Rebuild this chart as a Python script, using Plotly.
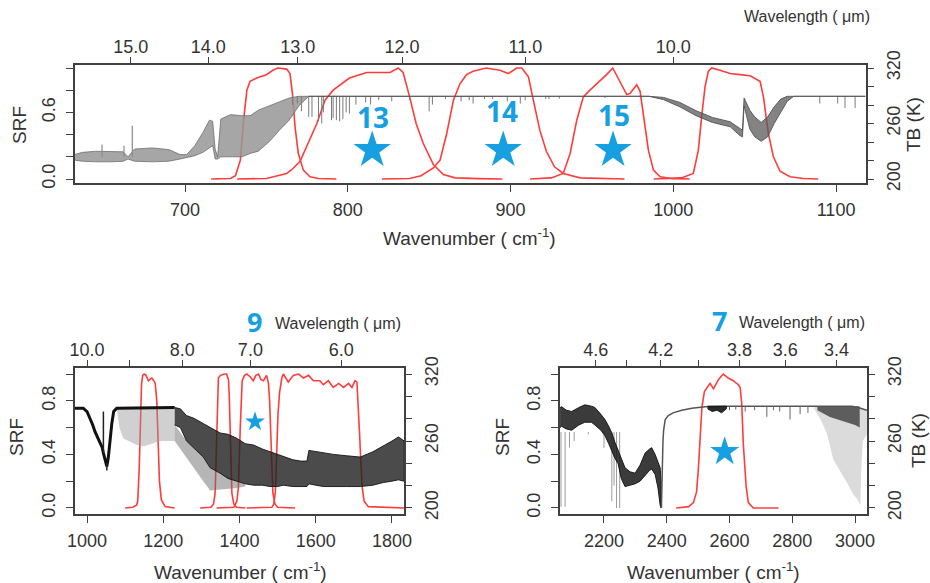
import plotly.graph_objects as go

# ======================= DATA =======================
# ---- Top panel (wavenumber cm-1) : spectral response functions ----
top_srf1_wn = [716, 728, 731, 734, 736, 738, 740, 744, 750, 754, 757, 762.5, 764.5, 766, 767.6, 769.6, 772.7, 776.8, 782, 793]
top_srf1 = [0.0, 0.005, 0.03, 0.17, 0.53, 0.8, 0.88, 0.91, 0.94, 0.98, 1.0, 0.99, 0.95, 0.77, 0.47, 0.23, 0.08, 0.02, 0.005, 0.0]
top_srf2_wn = [732, 750, 762.5, 766, 770.7, 774.8, 781, 786, 791, 801, 811.6, 821.8, 826, 831, 834, 838, 842, 846.4, 852.6, 858.7, 866, 880, 895]
top_srf2 = [0.0, 0.005, 0.05, 0.09, 0.16, 0.29, 0.5, 0.71, 0.8, 0.91, 0.96, 0.96, 0.96, 1.0, 0.96, 0.74, 0.5, 0.32, 0.13, 0.04, 0.01, 0.003, 0.0]
top_srf3_wn = [821, 838, 845, 852.6, 856.7, 860.8, 864.9, 869, 873, 877, 885, 893.5, 898.6, 903.8, 906.9, 911, 914, 918, 922, 927, 932.4, 942.7, 970]
top_srf3 = [0.0, 0.005, 0.03, 0.1, 0.17, 0.41, 0.71, 0.86, 0.94, 0.97, 1.0, 0.98, 0.95, 1.0, 1.0, 0.92, 0.71, 0.44, 0.25, 0.11, 0.05, 0.01, 0.0]
top_srf4_wn = [912, 925, 932.4, 936.6, 940.7, 944.7, 948.8, 955, 959, 962.8, 967.3, 971.4, 973.4, 977.5, 979.6, 981.6, 984.7, 987.8, 991.9, 1000, 1010]
top_srf4 = [0.0, 0.01, 0.05, 0.23, 0.53, 0.74, 0.8, 0.88, 0.94, 1.0, 0.88, 0.76, 0.77, 0.85, 0.79, 0.59, 0.26, 0.08, 0.02, 0.003, 0.0]
top_srf5_wn = [988, 1005, 1012.3, 1015.4, 1017.4, 1019.5, 1021.5, 1023.6, 1028.7, 1034.9, 1041, 1047.2, 1053.3, 1055.4, 1058.4, 1061.5, 1065.6, 1071.7, 1080, 1089]
top_srf5 = [0.0, 0.01, 0.05, 0.26, 0.56, 0.83, 0.97, 1.0, 0.98, 0.95, 0.94, 0.93, 0.88, 0.74, 0.41, 0.2, 0.07, 0.02, 0.005, 0.0]

# ---- Top panel : brightness temperature spectrum (K) ----
top_co2_wn = [632, 637, 645, 655, 662, 665, 669, 680, 690, 697, 701, 706, 711, 715, 717, 718.5, 720, 722, 728, 735, 740, 745, 752, 758, 764, 770, 776]
top_co2_hi = [226.4, 228.8, 230, 230, 229.4, 224, 232.4, 233.6, 231.8, 226.4, 226.4, 236, 250.4, 263.6, 262.4, 232.4, 224, 264.8, 269.6, 268.4, 268.4, 274.4, 279.2, 284, 287.6, 289.4, 289.4]
top_co2_lo = [220.4, 219.2, 218.6, 218.6, 219.2, 221.6, 219.2, 218.6, 219.2, 221.6, 222.8, 225.2, 228.8, 233.6, 236, 221.6, 221.6, 224, 224, 224, 227.6, 230, 240.8, 252.8, 263.6, 279.2, 289.4]
top_spike_wn = [649, 662.5, 667.6]
top_spike_tb = [237.2, 236, 257.6]
top_win_wn = [776, 985, 994, 1004, 1014, 1024, 1035, 1041, 1042.5, 1043.5, 1047, 1050, 1054, 1058, 1062, 1066, 1070, 1074, 1118]
top_win_hi = [289.4, 289.4, 288.2, 282.8, 273.8, 266.6, 261.8, 254, 252.8, 287.6, 274.4, 267.2, 261.2, 267.2, 278, 286.4, 289.4, 289.4, 289.4]
top_win_lo = [289.4, 289.4, 285.8, 278, 268.4, 261.2, 256.4, 246.8, 245.6, 279.2, 254, 245.6, 240.8, 245.6, 260, 272, 284, 289.4, 289.4]
top_line_wn = [766, 769, 771.5, 776, 778, 782, 784, 785, 790, 791, 793, 795, 797, 799, 801, 805, 811, 814, 819, 827, 838, 850, 852, 860,
               869.6, 874.6, 877, 884, 889, 898, 906, 909, 921.6, 923.6, 930, 945, 958, 1090, 1101, 1105.5, 1111.7]
top_line_tb = [280.4, 281.6, 273.2, 267.2, 267.2, 262.4, 260, 272, 263.6, 266, 263.6, 262.4, 264.8, 272, 270.8, 280.4, 282.8, 280.4, 285.2, 284, 285.2, 273.2, 280.4, 286.4,
               284, 285.2, 281.6, 286.4, 286.4, 284, 281.6, 285.2, 286.4, 286.4, 287, 287.6, 287.6, 281.6, 281.6, 276.8, 276.8]
top_baseline_tb = 289.4

# ---- Bottom-left panel ----
bl_srf1_wn = [1100, 1120, 1130, 1133, 1137, 1140, 1143, 1146, 1150, 1155, 1161, 1165, 1170, 1175, 1179, 1183, 1187, 1190, 1195, 1205, 1230]
bl_srf1 = [0.0, 0.005, 0.02, 0.05, 0.3, 0.65, 0.92, 0.99, 1.0, 0.99, 0.95, 0.96, 0.97, 0.95, 0.93, 0.8, 0.45, 0.2, 0.06, 0.01, 0.0]
bl_srf2_wn = [1297, 1325, 1332, 1336, 1338, 1340.5, 1344.6, 1350, 1360, 1366, 1371, 1373, 1375, 1378, 1380, 1385, 1392, 1415]
bl_srf2 = [0.0, 0.005, 0.03, 0.11, 0.3, 0.6, 0.97, 0.99, 1.0, 1.0, 0.96, 0.85, 0.6, 0.3, 0.11, 0.03, 0.005, 0.0]
bl_srf3_wn = [1340, 1385, 1393, 1397, 1402, 1407, 1413, 1419, 1428, 1436, 1443, 1450, 1456, 1463, 1471, 1476, 1479, 1482, 1485, 1487.5, 1493, 1500, 1546]
bl_srf3 = [0.0, 0.005, 0.05, 0.15, 0.6, 0.95, 0.99, 1.0, 0.98, 0.95, 0.99, 1.0, 0.96, 0.95, 0.99, 0.93, 0.8, 0.6, 0.3, 0.11, 0.03, 0.005, 0.0]
bl_srf4_wn = [1419, 1485, 1490, 1494, 1497, 1501, 1505, 1511, 1515, 1528, 1541, 1555, 1568, 1581, 1594, 1611, 1620, 1633, 1646, 1660, 1673, 1686, 1695, 1703, 1708, 1712, 1715, 1718, 1722, 1727, 1738, 1832]
bl_srf4 = [0.0, 0.005, 0.03, 0.12, 0.36, 0.7, 0.86, 0.97, 1.0, 0.94, 0.99, 1.0, 0.97, 0.99, 0.95, 0.95, 0.92, 0.95, 0.9, 0.93, 0.9, 0.93, 0.9, 0.95, 0.94, 0.75, 0.55, 0.36, 0.15, 0.05, 0.01, 0.0]

bl_o3_wn = [968, 990, 1000, 1008, 1015, 1021, 1028, 1034, 1040, 1043, 1048, 1052, 1056, 1060, 1065, 1070, 1078, 1230]
bl_o3_tb = [289.4, 289.4, 286.4, 280.4, 274.4, 268.4, 263.6, 258.8, 254, 249.2, 243.2, 237.2, 245.6, 260, 275.6, 286.4, 289.4, 290]
bl_spike_wn = [1043, 1052]
bl_spike_hi = [286.4, 240]
bl_spike_lo = [249.2, 233.6]
bl_wing_wn = [1078, 1085, 1095, 1110, 1130, 1150, 1170, 1190, 1210, 1230]
bl_wing_lo = [289.4, 272, 262.4, 260, 256.4, 255.2, 257.6, 260, 260, 260]
bl_wing_hi = 290
bl_h2o_wn = [1230, 1245, 1261, 1280, 1305, 1323, 1349, 1370, 1393, 1415, 1437, 1460, 1480, 1500, 1515, 1540, 1560, 1577, 1582, 1600, 1620, 1646, 1680, 1717, 1750, 1777, 1800, 1817, 1832]
bl_h2o_hi = [290, 288.8, 282.8, 280.4, 275.6, 272, 267.2, 266, 262.4, 257.6, 256.4, 252.8, 250.4, 248, 245.6, 243.2, 242, 242, 251.6, 250.4, 249.2, 248, 246.8, 245.6, 250.4, 255.2, 260, 263.6, 260]
bl_h2o_lo = [274.4, 272, 260, 254, 245.6, 236, 231.2, 226.4, 224, 221.6, 220.4, 220.4, 219.2, 219.2, 220.4, 219.2, 219.2, 219.2, 221.6, 220.4, 219.2, 219.2, 219.2, 219.2, 220.4, 222.8, 224, 225.2, 224]
bl_deep_wn = [1230, 1261, 1305, 1323, 1349, 1393, 1415]
bl_deep_lo = [260, 245.6, 224, 215.6, 216.8, 218, 219.2]

# ---- Bottom-right panel ----
br_srf_wn = [2430, 2470, 2485, 2495, 2501, 2506, 2512, 2520, 2528, 2538, 2549, 2565, 2580, 2596, 2612, 2628, 2634, 2639, 2644, 2653, 2660, 2676, 2756]
br_srf = [0.0, 0.01, 0.04, 0.12, 0.3, 0.55, 0.75, 0.87, 0.9, 0.93, 0.89, 0.96, 1.0, 0.97, 0.95, 0.92, 0.9, 0.78, 0.48, 0.16, 0.04, 0.0, 0.0]

br_co_wn = [2060, 2065, 2080, 2097, 2120, 2139, 2160, 2171, 2190, 2203, 2215, 2225, 2235, 2245, 2255, 2267, 2283, 2299, 2315, 2331, 2345, 2352, 2363, 2372, 2379, 2382]
br_co_hi = [290, 290.7, 287.6, 286.4, 290, 292.4, 291.2, 290, 284, 279.2, 273.2, 267.2, 258.8, 251.6, 243.2, 236, 232.4, 231.2, 238.4, 249.2, 252.8, 254, 248, 242, 236, 224]
br_co_lo = [272, 273.2, 270.8, 269.6, 274.4, 276.8, 276.8, 274.4, 269.6, 264.8, 257.6, 251.6, 244.4, 239.6, 226.4, 219.2, 220.4, 221.6, 224, 228.8, 233.6, 234.8, 230, 218, 202.4, 200]
br_deep_wn = [2063, 2076, 2090, 2105, 2150, 2200, 2225, 2232, 2240, 2250]
br_deep_tb = [201, 201, 254, 260, 266, 254, 206, 220, 200, 200]
br_edge_wn = [2383, 2384.5, 2386, 2388, 2390, 2395, 2405, 2420, 2448, 2480, 2522, 2600, 2880, 2990, 3010, 3025, 3038]
br_edge_tb = [200, 224, 248, 260, 269.6, 279.2, 282.8, 285.2, 287.6, 289.4, 290.6, 291.2, 291.2, 291.2, 290, 288.8, 287.6]
br_blob_wn = [2530, 2545, 2560, 2575, 2590]
br_blob_lo = [288.8, 286.4, 287.6, 285.2, 288.8]
br_wing_wn = [2870, 2890, 2910, 2931, 2953, 2974, 2995, 3006, 3017, 3020, 3025, 3038]
br_wing_lo = [288.8, 279.2, 267.2, 243.2, 232.4, 222.8, 212, 208.4, 202.4, 236, 260, 266]
br_wing_hi = [291.2, 291.2, 291.2, 291.2, 291.2, 291.2, 291.2, 290.5, 290, 289.5, 288.8, 287.6]
br_dark_wn = [2880, 2920, 2960, 3000, 3015]
br_dark_lo = [287.6, 281.6, 278, 274.4, 272]
br_line_wn = [2600, 2620, 2650, 2680, 2719, 2740, 2760, 2793, 2825, 2850]
br_line_tb = [287.6, 288.2, 286.4, 287.6, 281.6, 287.6, 286.4, 279.2, 284, 285.2]
br_baseline_tb = 291.2

# ---- stars / band labels ----
top_star_wn = [815, 895.5, 963]
top_star_srf = [0.26, 0.26, 0.26]
top_star_lab = ['13', '14', '15']
bl_star_wn, bl_star_srf = [1440.7], [0.643]
br_star_wn, br_star_srf = [2584.7], [0.42]

# ---- axis ticks (labelled / unlabelled) ----
top_wn_ticks = [700, 800, 900, 1000, 1100]
top_wl_ticks = [15.0, 14.0, 13.0, 12.0, 11.0, 10.0]
top_wl_minor = []
bl_wn_ticks = [1000, 1200, 1400, 1600, 1800]
bl_wl_ticks = [10.0, 8.0, 7.0, 6.0]
bl_wl_minor = [9.0]
br_wn_ticks = [2200, 2400, 2600, 2800, 3000]
br_wl_ticks = [4.6, 4.2, 3.8, 3.6, 3.4]
br_wl_minor = [4.4, 4.0]
top_srf_ticks, top_srf_minor = [0.0, 0.6], [0.2, 0.4, 0.8, 1.0]
bot_srf_ticks, bot_srf_minor = [0.0, 0.4, 0.8], [0.2, 0.6, 1.0]
tb_ticks, tb_minor = [200, 260, 320], [220, 240, 280, 300]

# ======================= STYLE =======================
W, H = 930, 583
FONT = 'Liberation Sans, Arial, sans-serif'
BLUE = '#16a0e2'
RED = '#ff3c3c'
AX = '#404040'
TXT = '#333333'

fig = go.Figure()


def add_srf(wn, srf, xa, ya):
    fig.add_trace(go.Scatter(x=wn, y=srf, xaxis=xa, yaxis=ya, mode='lines',
                             line=dict(color=RED, width=1.6), hoverinfo='skip', showlegend=False))


def add_band(wn, hi, lo, xa, ya, fill, edge, width):
    if not isinstance(hi, list):
        hi = [hi] * len(wn)
    xs = list(wn) + list(wn)[::-1]
    ys = list(hi) + list(lo)[::-1]
    fig.add_trace(go.Scatter(x=xs, y=ys, xaxis=xa, yaxis=ya, mode='lines', fill='toself',
                             fillcolor=fill, line=dict(color=edge, width=width),
                             hoverinfo='skip', showlegend=False))


def add_lines(wn, tip, base, xa, ya, color, width):
    xs, ys = [], []
    for i, (w, t) in enumerate(zip(wn, tip)):
        b = base[i] if isinstance(base, list) else base
        xs += [w, w, None]
        ys += [b, t, None]
    fig.add_trace(go.Scatter(x=xs, y=ys, xaxis=xa, yaxis=ya, mode='lines',
                             line=dict(color=color, width=width), hoverinfo='skip', showlegend=False))


def add_curve(wn, tb, xa, ya, color, width):
    fig.add_trace(go.Scatter(x=wn, y=tb, xaxis=xa, yaxis=ya, mode='lines',
                             line=dict(color=color, width=width), hoverinfo='skip', showlegend=False))


def add_stars(wn, srf, xa, ya, size):
    fig.add_trace(go.Scatter(x=wn, y=srf, xaxis=xa, yaxis=ya, mode='markers',
                             marker=dict(symbol='star', size=size, color=BLUE, line=dict(width=0)),
                             hoverinfo='skip', showlegend=False))


# ---- top panel ----
add_band(top_co2_wn, top_co2_hi, top_co2_lo, 'x', 'y2', 'rgba(150,150,150,0.85)', 'rgba(100,100,100,0.9)', 0.8)
add_lines(top_spike_wn, top_spike_tb, 224, 'x', 'y2', '#8a8a8a', 1.2)
add_lines(top_line_wn, top_line_tb, top_baseline_tb, 'x', 'y2', '#7a7a7a', 1)
add_band(top_win_wn, top_win_hi, top_win_lo, 'x', 'y2', 'rgba(90,90,90,0.75)', 'rgba(85,85,85,0.9)', 1)
for wn_, s_ in [(top_srf1_wn, top_srf1), (top_srf2_wn, top_srf2), (top_srf3_wn, top_srf3),
                (top_srf4_wn, top_srf4), (top_srf5_wn, top_srf5)]:
    add_srf(wn_, s_, 'x', 'y')
add_stars(top_star_wn, top_star_srf, 'x', 'y', 28)

# ---- bottom-left panel ----
add_band(bl_wing_wn, bl_wing_hi, bl_wing_lo, 'x3', 'y4', 'rgba(150,150,150,0.45)', 'rgba(150,150,150,0.0)', 0)
add_band(bl_deep_wn, [bl_h2o_lo[bl_h2o_wn.index(w)] for w in bl_deep_wn], bl_deep_lo, 'x3', 'y4',
         'rgba(110,110,110,0.5)', 'rgba(140,140,140,0)', 0)
add_band(bl_h2o_wn, bl_h2o_hi, bl_h2o_lo, 'x3', 'y4', 'rgba(35,35,35,0.82)', 'rgba(20,20,20,0.9)', 1)
add_curve(bl_o3_wn, bl_o3_tb, 'x3', 'y4', '#111111', 3)
add_lines(bl_spike_wn, bl_spike_hi, bl_spike_lo, 'x3', 'y4', '#222222', 1.5)
for wn_, s_ in [(bl_srf1_wn, bl_srf1), (bl_srf2_wn, bl_srf2), (bl_srf3_wn, bl_srf3), (bl_srf4_wn, bl_srf4)]:
    add_srf(wn_, s_, 'x3', 'y3')
add_stars(bl_star_wn, bl_star_srf, 'x3', 'y3', 15)

# ---- bottom-right panel ----
add_lines(br_deep_wn, br_deep_tb, 268, 'x5', 'y6', '#9a9a9a', 1)
add_band(br_wing_wn, br_wing_hi, br_wing_lo, 'x5', 'y6', 'rgba(160,160,160,0.38)', 'rgba(150,150,150,0)', 0)
add_band(br_dark_wn, [291.2] * len(br_dark_wn), br_dark_lo, 'x5', 'y6', 'rgba(40,40,40,0.7)', 'rgba(40,40,40,0)', 0)
add_band(br_co_wn, br_co_hi, br_co_lo, 'x5', 'y6', 'rgba(25,25,25,0.85)', 'rgba(15,15,15,0.9)', 1)
add_curve(br_edge_wn, br_edge_tb, 'x5', 'y6', '#555555', 1.5)
add_band(br_blob_wn, [291.2] * len(br_blob_wn), br_blob_lo, 'x5', 'y6', 'rgba(20,20,20,0.9)', 'rgba(20,20,20,0.9)', 1)
add_lines(br_line_wn, br_line_tb, br_baseline_tb, 'x5', 'y6', '#666666', 1)
add_srf(br_srf_wn, br_srf, 'x5', 'y5')
add_stars(br_star_wn, br_star_srf, 'x5', 'y5', 22)

# invisible anchors for the wavelength axes
for xa, ya, xv in [('x2', 'y', 900), ('x4', 'y3', 1400), ('x6', 'y5', 2600)]:
    fig.add_trace(go.Scatter(x=[xv], y=[0.5], xaxis=xa, yaxis=ya, mode='markers',
                             marker=dict(opacity=0), hoverinfo='skip', showlegend=False))

# ======================= AXES =======================
tickfont = dict(family=FONT, size=18, color=TXT)
TK = dict(ticks='outside', ticklen=7, tickwidth=1.3, tickcolor=AX)


def px_x(p):
    return p / W


def px_y(p):
    return 1 - p / H


def minor(vals):
    return dict(tickvals=vals, **TK)


def fmt1(v):
    return '%.1f' % v


def xaxis_bottom(dom, rng, ticks, anchor):
    return dict(domain=dom, range=rng, anchor=anchor, tickvals=ticks, ticktext=[str(t) for t in ticks],
                showline=True, linecolor=AX, linewidth=1.5, mirror=True, showgrid=False, zeroline=False,
                tickfont=tickfont, ticklabelstandoff=3, automargin=False, **TK)


def xaxis_top(over, rng, wl, wl_minor, anchor):
    d = dict(overlaying=over, side='top', anchor=anchor, range=rng,
             tickvals=[1e4 / w for w in wl], ticktext=[fmt1(w) for w in wl],
             showline=False, showgrid=False, zeroline=False, tickfont=tickfont,
             ticklabelstandoff=-3, automargin=False, **TK)
    if wl_minor:
        d['minor'] = minor([1e4 / w for w in wl_minor])
    return d


def yaxis_left(dom, rng, ticks, mnr, anchor):
    return dict(domain=dom, range=rng, anchor=anchor, tickvals=ticks, ticktext=[fmt1(t) for t in ticks],
                minor=minor(mnr), tickangle=-90, showline=True, linecolor=AX, linewidth=1.5, mirror=True,
                showgrid=False, zeroline=False, tickfont=tickfont, ticklabelstandoff=4, automargin=False, **TK)


def yaxis_right(over, rng, anchor):
    return dict(overlaying=over, side='right', anchor=anchor, range=rng, tickvals=tb_ticks,
                ticktext=[str(t) for t in tb_ticks], minor=minor(tb_minor), tickangle=-90,
                showline=False, showgrid=False, zeroline=False, tickfont=tickfont, ticklabelstandoff=4,
                automargin=False, **TK)


top_xd = [px_x(75), px_x(866)]
top_yd = [px_y(183), px_y(65)]
bl_xd = [px_x(75), px_x(404)]
br_xd = [px_x(560), px_x(867)]
bot_yd = [px_y(514), px_y(368)]

top_xr = [632.4, 1118.4]
bl_xr = [968.5, 1831.5]
br_xr = [2059.8, 3038.2]
top_sr = [-0.036, 1.027]
bot_sr = [-0.045, 1.045]
top_tr = [200 + 120 * top_sr[0], 200 + 120 * top_sr[1]]
bot_tr = [200 + 120 * bot_sr[0], 200 + 120 * bot_sr[1]]

layout = dict(
    width=W, height=H, margin=dict(l=0, r=0, t=0, b=0, pad=0, autoexpand=False),
    paper_bgcolor='white', plot_bgcolor='rgba(0,0,0,0)', showlegend=False,
    xaxis=xaxis_bottom(top_xd, top_xr, top_wn_ticks, 'y'),
    xaxis2=xaxis_top('x', top_xr, top_wl_ticks, top_wl_minor, 'y'),
    yaxis=yaxis_left(top_yd, top_sr, top_srf_ticks, top_srf_minor, 'x'),
    yaxis2=yaxis_right('y', top_tr, 'x'),
    xaxis3=xaxis_bottom(bl_xd, bl_xr, bl_wn_ticks, 'y3'),
    xaxis4=xaxis_top('x3', bl_xr, bl_wl_ticks, bl_wl_minor, 'y3'),
    yaxis3=yaxis_left(bot_yd, bot_sr, bot_srf_ticks, bot_srf_minor, 'x3'),
    yaxis4=yaxis_right('y3', bot_tr, 'x3'),
    xaxis5=xaxis_bottom(br_xd, br_xr, br_wn_ticks, 'y5'),
    xaxis6=xaxis_top('x5', br_xr, br_wl_ticks, br_wl_minor, 'y5'),
    yaxis5=yaxis_left(bot_yd, bot_sr, bot_srf_ticks, bot_srf_minor, 'x5'),
    yaxis6=yaxis_right('y5', bot_tr, 'x5'),
)
fig.update_layout(**layout)

# ======================= TEXT =======================
ann = []


def txt(x, y, s, size=20, angle=0, color=TXT, family=FONT):
    ann.append(dict(x=px_x(x), y=px_y(y), xref='paper', yref='paper', text=s, showarrow=False,
                    textangle=angle, font=dict(family=family, size=size, color=color),
                    xanchor='center', yanchor='middle'))


WN_TITLE = 'Wavenumber ( cm<sup>-1</sup>)'
WL_TITLE = 'Wavelength ( \u03bcm)'
txt(20, 125, 'SRF', 19, -90)
txt(914, 125, 'TB (K)', 19, -90)
txt(469, 237, WN_TITLE, 19)
txt(807, 17, WL_TITLE, 16)
txt(16, 437, 'SRF', 19, -90)
txt(240, 571, WN_TITLE, 19)
txt(338, 323, WL_TITLE, 16)
txt(502, 437, 'SRF', 19, -90)
txt(918, 441, 'TB (K)', 19, -90)
txt(713, 571, WN_TITLE, 19)
txt(802, 322, WL_TITLE, 16)

BFONT = 'Open Sans, Noto Sans, sans-serif'
txt(254, 321, '<b>9</b>', 27, 0, BLUE, BFONT)
txt(719, 320, '<b>7</b>', 27, 0, BLUE, BFONT)
for lab, yy, xx in zip(top_star_lab, [117, 111, 115], [373, 502.5, 614]):
    txt(xx, yy, '<b>' + lab + '</b>', 28, 0, BLUE, BFONT)

fig.update_layout(annotations=ann)
fig.write_html('out.html', config={'displayModeBar': False},
               post_script="document.body.style.margin='0px';document.body.style.padding='0px';")
